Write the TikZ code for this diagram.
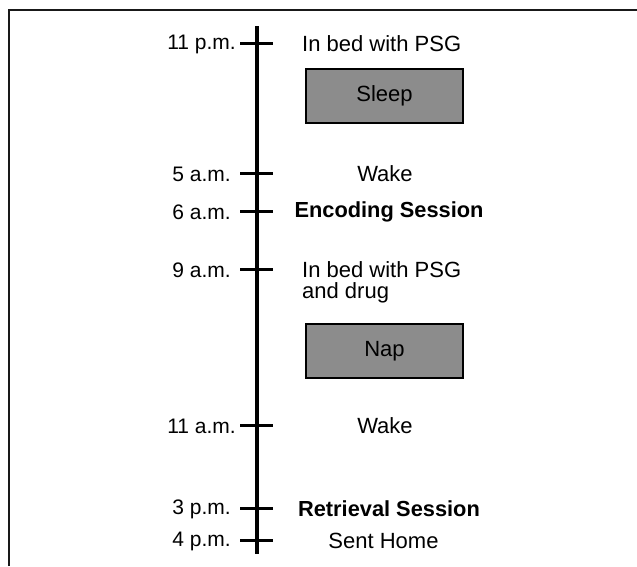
\documentclass[tikz,border=0pt]{standalone}
\usepackage{fontspec}
\setmainfont{Liberation Sans}
\begin{document}
\begin{tikzpicture}[x=1pt,y=-1pt,
  axisline/.style={line width=3.2pt,black},
  tickline/.style={line width=3pt,black},
  timelbl/.style={anchor=east,inner sep=0pt,font=\fontsize{21}{24}\selectfont},
  evt/.style={inner sep=0pt,font=\fontsize{22}{26}\selectfont},
  evtb/.style={inner sep=0pt,font=\fontsize{21.8}{26}\selectfont\bfseries},
  phase/.style={draw=black,line width=2pt,minimum width=157pt,minimum height=54pt,inner sep=0pt,font=\fontsize{22}{26}\selectfont}]
\useasboundingbox (0,0) rectangle (637,566);
\definecolor{boxgray}{RGB}{140,140,140}
\draw[line width=2.5pt,black!90] (9,566) -- (9,10) -- (637,10);
\coordinate (top) at (257,26);
\coordinate (bot) at (257,554);
\draw[axisline] (top) -- (bot);
% ticks
\foreach \n/\y in {t11p/43,t5a/173,t6a/211,t9a/269,t11a/425,t3p/508,t4p/540}{
  \coordinate (\n L) at (240,\y);
  \coordinate (\n R) at (273,\y);
  \draw[tickline] (\n L) -- (\n R);
}
\node[timelbl] (l11p) at (236,44) {11 p.m.};
\node[timelbl] (l5a) at (231,174) {5 a.m.};
\node[timelbl] (l6a) at (231,212) {6 a.m.};
\node[timelbl] (l9a) at (231,270) {9 a.m.};
\node[timelbl] (l11a) at (236,426) {11 a.m.};
\node[timelbl] (l3p) at (231,509) {3 p.m.};
\node[timelbl] (l4p) at (231,541) {4 p.m.};
\node[evt,anchor=west] (bed1) at (302,44) {In bed with PSG};
\node[phase,fill=boxgray] (sleep) at (384.5,96) {Sleep};
\node[evt] (wake1) at (385,174) {Wake};
\node[evtb] (enc) at (389,212) {Encoding Session};
\node[evt,anchor=west] (bed2a) at (302,270) {In bed with PSG};
\node[evt,anchor=west] (bed2b) at (302,293) {and drug};
\node[phase,fill=boxgray] (nap) at (384.5,351) {Nap};
\node[evt] (wake2) at (385,426) {Wake};
\node[evtb] (ret) at (389,509) {Retrieval Session};
\node[evt] (home) at (383.5,541) {Sent Home};
\end{tikzpicture}
\end{document}
